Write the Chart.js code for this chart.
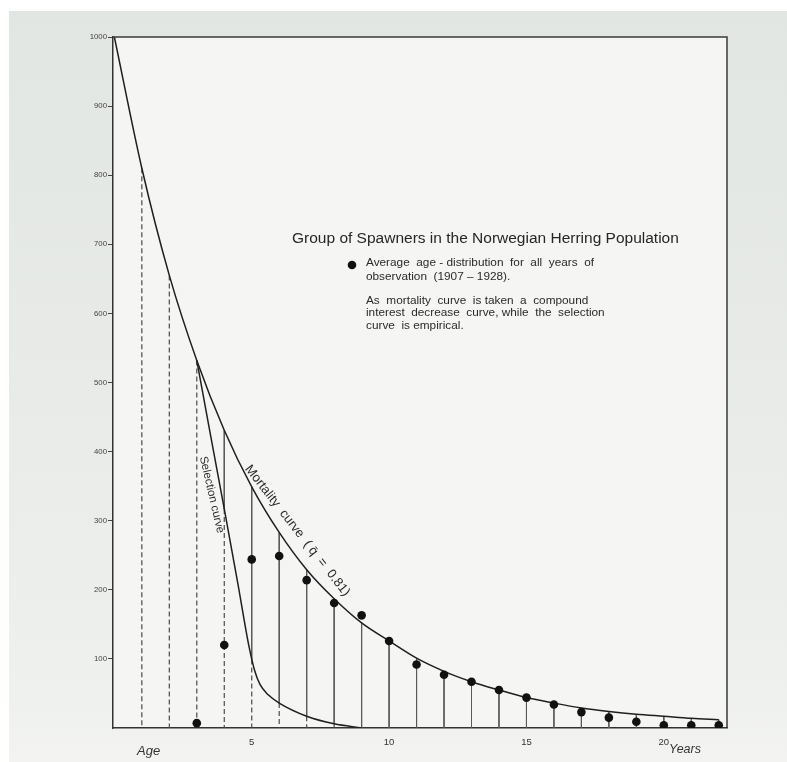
<!DOCTYPE html>
<html>
<head>
<meta charset="utf-8">
<script src="https://cdn.jsdelivr.net/npm/chart.js@4"></script>
<style>
  html, body { margin: 0; padding: 0; background: #ffffff; }
  #paper { position: absolute; left: 9px; top: 11px; width: 778px; height: 751px;
    background: linear-gradient(to bottom, #e2e6e3 0%, #e9ece9 60%, #eff1ee 92%, #f3f4f2 100%); }
  #wrap { position: absolute; left: 0; top: 0; width: 787px; height: 762px; }
</style>
</head>
<body>
<div id="paper"></div>
<div id="wrap"><canvas id="c" width="787" height="762"></canvas></div>
<script>
// ---- data ----
const mortalityAges   = [0, 1, 2, 3, 4, 5, 6, 7, 8, 9, 10, 11, 12, 13, 14, 15, 16, 17, 18, 19, 20, 21, 22];
const mortalityValues = [1000, 810, 655, 532, 431, 349, 283, 229, 187, 152, 126, 101, 82, 67, 55, 44, 36, 29, 24, 20, 17, 14, 12];

const selectionAges   = [3, 3.5, 4, 4.5, 4.9, 5.1, 5.3, 5.6, 6, 7, 8, 9];
const selectionValues = [532, 424, 317, 208, 118, 84, 63, 48, 36, 17, 6, 0];

// level down to which the vertical age line is solid (below it the line is dashed)
const lineAges    = [1, 2, 3, 4, 5, 6, 7, 8, 9, 10, 11, 12, 13, 14, 15, 16, 17, 18, 19, 20, 21, 22];
const lineCutoffs = [810, 655, 532, 317, 99, 36, 17, 6, 0, 0, 0, 0, 0, 0, 0, 0, 0, 0, 0, 0, 0, 0];

const dotAges   = [3, 4, 5, 6, 7, 8, 9, 10, 11, 12, 13, 14, 15, 16, 17, 18, 19, 20, 21, 22];
const dotValues = [7, 120, 244, 249, 214, 181, 163, 126, 92, 77, 67, 55, 44, 34, 23, 15, 9, 4, 4, 4];

const xTickValues = [5, 10, 15, 20];
const yTickValues = [100, 200, 300, 400, 500, 600, 700, 800, 900, 1000];

// ---- build datasets ----
const ink = '#1f1f1f';
const datasets = [];

datasets.push({
  label: 'dots', type: 'scatter',
  data: dotAges.map((a, i) => ({x: a, y: dotValues[i]})),
  pointRadius: 4.3, pointBackgroundColor: '#111', pointBorderColor: '#111', pointBorderWidth: 0,
  showLine: false, order: 0, clip: 0
});
datasets.push({
  label: 'mortality', type: 'line',
  data: mortalityAges.map((a, i) => ({x: a, y: mortalityValues[i]})),
  borderColor: ink, borderWidth: 1.5, pointRadius: 0, fill: false,
  cubicInterpolationMode: 'monotone', order: 1
});
datasets.push({
  label: 'selection', type: 'line',
  data: selectionAges.map((a, i) => ({x: a, y: selectionValues[i]})),
  borderColor: ink, borderWidth: 1.5, pointRadius: 0, fill: false,
  cubicInterpolationMode: 'monotone', order: 1
});
lineAges.forEach((a, i) => {
  const idx = mortalityAges.indexOf(a);
  const top = mortalityValues[idx];
  const cut = Math.min(lineCutoffs[i], top);
  if (top > cut) {
    datasets.push({
      label: 'solid' + a, type: 'line',
      data: [{x: a, y: top}, {x: a, y: cut}],
      borderColor: '#5a5a5a', borderWidth: 1, pointRadius: 0, order: 2
    });
  }
  if (cut > 0) {
    datasets.push({
      label: 'dash' + a, type: 'line',
      data: [{x: a, y: cut}, {x: a, y: 0}],
      borderColor: '#4a4a4a', borderWidth: 1.2, borderDash: [5, 3], pointRadius: 0, order: 2
    });
  }
});

// ---- decorations plugin ----
const paperPlugin = {
  id: 'paper',
  beforeDraw(chart) {
    const {ctx, chartArea: a} = chart;
    ctx.save();
    ctx.fillStyle = '#f5f6f4';
    ctx.fillRect(a.left, a.top, a.right - a.left, a.bottom - a.top);
    ctx.restore();
  },
  afterDraw(chart) {
    const {ctx, chartArea: a} = chart;
    const xs = chart.scales.x, ys = chart.scales.y;
    ctx.save();
    // top and right frame
    ctx.strokeStyle = '#3a3a3a';
    ctx.lineWidth = 1.5;
    ctx.beginPath();
    ctx.moveTo(a.left, a.top); ctx.lineTo(a.right, a.top); ctx.lineTo(a.right, a.bottom);
    ctx.stroke();

    ctx.fillStyle = '#262626';
    ctx.textBaseline = 'middle';
    ctx.textAlign = 'left';
    ctx.font = '15.5px "Liberation Sans", Arial, sans-serif';
    ctx.fillText('Group of Spawners in the Norwegian Herring Population', 292, 239);

    ctx.beginPath();
    ctx.arc(352, 265, 4.3, 0, Math.PI * 2);
    ctx.fillStyle = '#111';
    ctx.fill();

    ctx.fillStyle = '#2a2a2a';
    ctx.font = '11.8px "Liberation Sans", Arial, sans-serif';
    ctx.fillText('Average  age - distribution  for  all  years  of', 366, 263);
    ctx.fillText('observation  (1907 – 1928).', 366, 277);
    ctx.fillText('As  mortality  curve  is taken  a  compound', 366, 301);
    ctx.fillText('interest  decrease  curve, while  the  selection', 366, 313);
    ctx.fillText('curve  is empirical.', 366, 326);

    // curve labels
    ctx.font = '11.5px "Liberation Sans", Arial, sans-serif';
    ctx.save();
    ctx.translate(xs.getPixelForValue(3.22), ys.getPixelForValue(393));
    ctx.rotate(77 * Math.PI / 180);
    ctx.fillText('Selection curve', 0, 0);
    ctx.restore();

    ctx.font = '13px "Liberation Sans", Arial, sans-serif';
    ctx.save();
    ctx.translate(xs.getPixelForValue(4.84), ys.getPixelForValue(378));
    ctx.rotate(52 * Math.PI / 180);
    ctx.fillText('Mortality  curve  ( q\u0304  =  0.81)', 0, 0);
    ctx.restore();

    // axis words
    ctx.font = 'italic 13px "Liberation Sans", Arial, sans-serif';
    ctx.fillStyle = '#333';
    ctx.fillText('Age', 137, 751);
    ctx.font = 'italic 12.5px "Liberation Sans", Arial, sans-serif';
    ctx.fillText('Years', 669, 750);
    ctx.restore();
  }
};

new Chart(document.getElementById('c'), {
  type: 'line',
  data: { datasets },
  options: {
    responsive: false,
    animation: false,
    events: [],
    layout: { padding: { left: 0, right: 60, top: 37, bottom: 0 } },
    plugins: { legend: { display: false }, tooltip: { enabled: false }, title: { display: false } },
    scales: {
      x: {
        type: 'linear', min: -0.05, max: 22.3,
        afterBuildTicks(s) { s.ticks = xTickValues.map(v => ({value: v})); },
        afterFit(s) { s.height = 34; },
        grid: { display: false },
        border: { display: true, color: '#333', width: 1.5 },
        ticks: { color: '#333', padding: 1, font: { size: 9.5, family: '"Liberation Sans", Arial, sans-serif' }, maxRotation: 0,
                 callback: v => String(v) }
      },
      y: {
        type: 'linear', min: 0, max: 1000,
        afterBuildTicks(s) { s.ticks = yTickValues.map(v => ({value: v})); },
        afterFit(s) { s.width = 113; },
        grid: { display: true, drawOnChartArea: false, drawTicks: true, tickLength: 5, color: '#444', lineWidth: 1 },
        border: { display: true, color: '#333', width: 1.5 },
        ticks: { color: '#444', padding: 1, font: { size: 7.8, family: '"Liberation Sans", Arial, sans-serif' },
                 callback: v => String(v) }
      }
    }
  },
  plugins: [paperPlugin]
});
</script>
</body>
</html>
